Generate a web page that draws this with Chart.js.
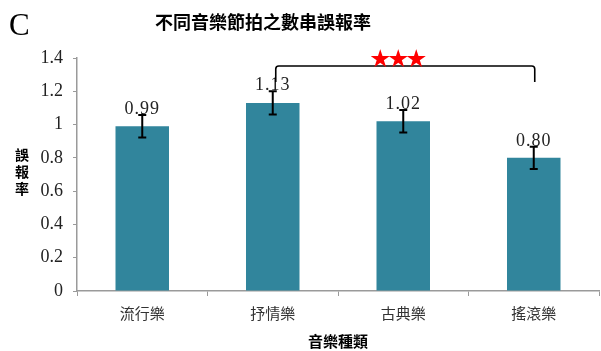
<!DOCTYPE html>
<html lang="zh-Hant">
<head>
  <meta charset="UTF-8">
  <title>不同音樂節拍之數串誤報率</title>
  <style>
    html, body { margin: 0; padding: 0; background: #fff; }
  </style>
</head>
<body>
  <canvas id="chart" width="601" height="351"></canvas>
  <script src="https://cdn.jsdelivr.net/npm/chart.js@4.4.1/dist/chart.umd.min.js"></script>
  <script>
    const categories = ['流行樂', '抒情樂', '古典樂', '搖滾樂'];
    const rates = [0.99, 1.13, 1.02, 0.80];
    const rateLabels = ['0.99', '1.13', '1.02', '0.80'];
    const errors = [0.068, 0.07, 0.068, 0.067];
    const yMax = 1.4;
    const yStep = 0.2;
    const compared = [1, 3];   // 抒情樂 vs 搖滾樂, p < .001
    const stars = '★★★';

    const serif = '"Liberation Serif", "Times New Roman", serif';
    const cjk = '"Noto Sans CJK TC", "Noto Sans CJK SC", sans-serif';
    const axisColor = '#9a9a9a';

    const extras = {
      id: 'extras',
      afterDatasetsDraw(chart) {
        const ctx = chart.ctx;
        const y = chart.scales.y;
        const bars = chart.getDatasetMeta(0).data;
        ctx.save();

        // error bars + value labels
        ctx.strokeStyle = '#000';
        ctx.lineWidth = 2;
        rates.forEach((v, i) => {
          const cx = bars[i].x;
          const top = y.getPixelForValue(v + errors[i]);
          const bot = y.getPixelForValue(v - errors[i]);
          ctx.beginPath();
          ctx.moveTo(cx, top); ctx.lineTo(cx, bot);
          ctx.moveTo(cx - 4, top); ctx.lineTo(cx + 4, top);
          ctx.moveTo(cx - 4, bot); ctx.lineTo(cx + 4, bot);
          ctx.stroke();

          ctx.fillStyle = '#222';
          ctx.font = '18px ' + serif;
          ctx.letterSpacing = '1px';
          ctx.textAlign = 'center';
          ctx.textBaseline = 'alphabetic';
          ctx.fillText(rateLabels[i], cx, top - 1);
          ctx.letterSpacing = '0px';
        });

        // significance bracket
        const lx = bars[compared[0]].x + 3;
        const rx = bars[compared[1]].x + 1;
        const by = y.getPixelForValue(1.352);
        const drop = y.getPixelForValue(1.256);
        ctx.lineWidth = 1.6;
        ctx.beginPath();
        ctx.moveTo(lx, drop);
        ctx.lineTo(lx, by + 3);
        ctx.quadraticCurveTo(lx, by, lx + 3, by);
        ctx.lineTo(rx - 3, by);
        ctx.quadraticCurveTo(rx, by, rx, by + 3);
        ctx.lineTo(rx, drop);
        ctx.stroke();

        ctx.fillStyle = '#ff0000';
        ctx.font = '20px "Noto Sans CJK JP", "DejaVu Sans", sans-serif';
        ctx.letterSpacing = '-2px';
        ctx.textAlign = 'center';
        ctx.textBaseline = 'middle';
        ctx.fillText(stars, (lx + rx) / 2 - 8, by - 8);
        ctx.letterSpacing = '0px';

        ctx.restore();
      },
      afterDraw(chart) {
        const ctx = chart.ctx;
        const area = chart.chartArea;
        ctx.save();
        ctx.fillStyle = '#000';
        ctx.textBaseline = 'middle';

        ctx.textAlign = 'left';
        ctx.font = '31px ' + serif;
        ctx.fillText('C', 9, 27);

        ctx.textAlign = 'center';
        ctx.font = 'bold 18px ' + cjk;
        ctx.fillText('不同音樂節拍之數串誤報率', 263, 22);

        ctx.font = 'bold 14px ' + cjk;
        ['誤', '報', '率'].forEach((ch, i) => ctx.fillText(ch, 22, 155 + i * 17));

        ctx.font = 'bold 15px ' + cjk;
        ctx.fillText('音樂種類', (area.left + area.right) / 2, 341);
        ctx.restore();
      }
    };

    new Chart(document.getElementById('chart'), {
      type: 'bar',
      data: {
        labels: categories,
        datasets: [{
          data: rates,
          backgroundColor: '#31859c',
          barPercentage: 0.41,
          categoryPercentage: 1
        }]
      },
      options: {
        responsive: false,
        animation: false,
        layout: { padding: { top: 58, right: 2, left: 0, bottom: 0 } },
        plugins: { legend: { display: false }, tooltip: { enabled: false } },
        scales: {
          x: {
            afterFit(scale) { scale.height = 60; },
            grid: { drawOnChartArea: false, tickLength: 5, color: axisColor, offset: true },
            border: { color: axisColor, width: 1.5 },
            ticks: { padding: 8, color: '#333', font: { family: cjk, size: 15 } }
          },
          y: {
            min: 0,
            max: yMax,
            afterFit(scale) { scale.width = 77; },
            grid: { drawOnChartArea: false, tickLength: 4, color: axisColor },
            border: { color: axisColor, width: 1.5 },
            ticks: {
              stepSize: yStep,
              padding: 10,
              color: '#222',
              font: { family: serif, size: 18 },
              callback: (v) => String(Number(v.toFixed(1)))
            }
          }
        }
      },
      plugins: [extras]
    });
  </script>
</body>
</html>
